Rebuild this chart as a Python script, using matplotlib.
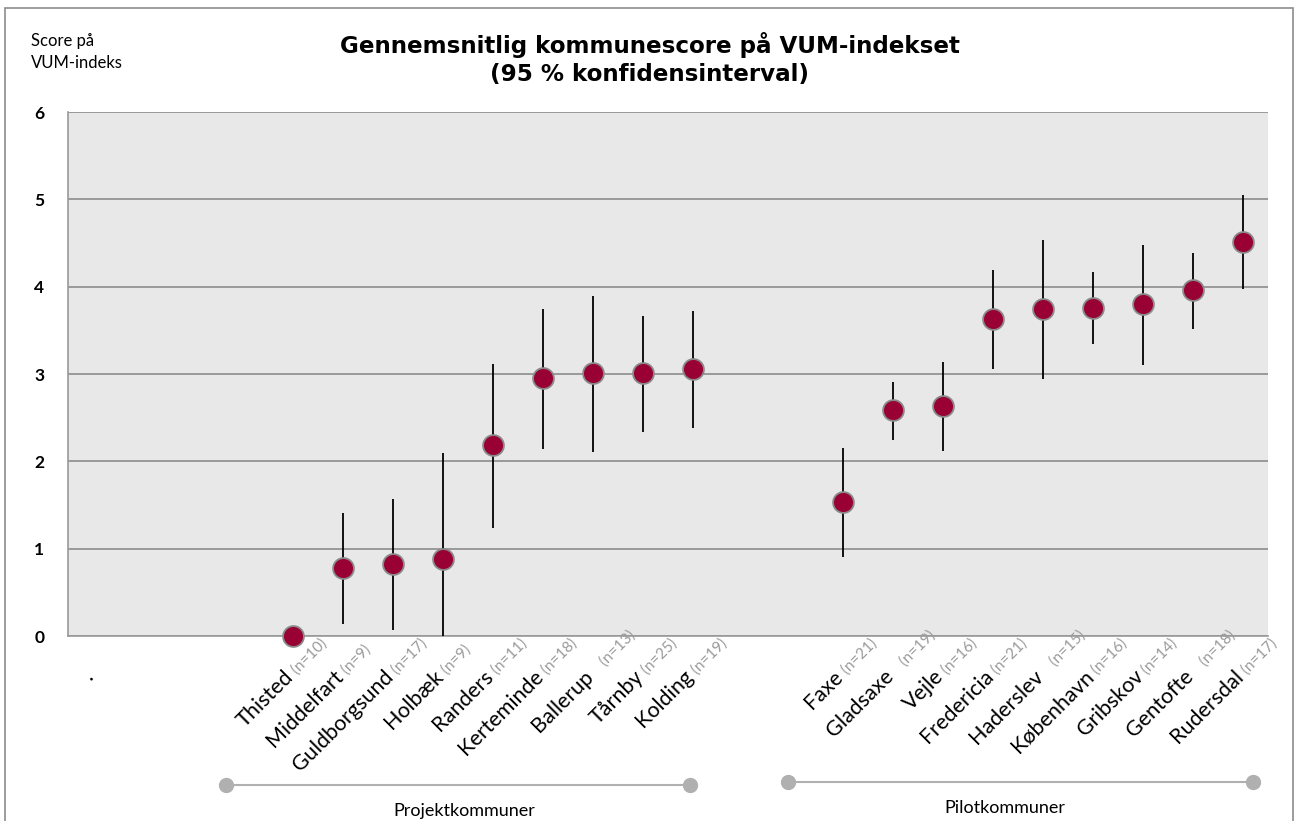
import numpy as np
import matplotlib
matplotlib.use("Agg")
import matplotlib.pyplot as plt
import matplotlib.transforms as mtransforms
from matplotlib.patches import Rectangle

plt.rcParams['font.family'] = ['Lato', 'DejaVu Sans']

# === DATA ===
# 24 category slots; empty slots keep the gaps of the original chart
names = [".", "", "", "",
         "Thisted", "Middelfart", "Guldborgsund", "Holbæk", "Randers",
         "Kerteminde", "Ballerup", "Tårnby", "Kolding",
         "", "",
         "Faxe", "Gladsaxe", "Vejle", "Fredericia", "Haderslev",
         "København", "Gribskov", "Gentofte", "Rudersdal"]
n_labels = ["", "", "", "",
            "(n=10)", "(n=9)", "(n=17)", "(n=9)", "(n=11)",
            "(n=18)", "   (n=13)", "(n=25)", "(n=19)",
            "", "",
            "(n=21)", "   (n=19)", "(n=16)", "(n=21)", "   (n=15)",
            "(n=16)", "(n=14)", "   (n=18)", "(n=17)"]
score = [np.nan, np.nan, np.nan, np.nan,
         0.00, 0.78, 0.83, 0.88, 2.19, 2.95, 3.01, 3.01, 3.06,
         np.nan, np.nan,
         1.53, 2.59, 2.63, 3.63, 3.75, 3.76, 3.80, 3.96, 4.51]
ci_low = [np.nan, np.nan, np.nan, np.nan,
          0.00, 0.14, 0.07, 0.00, 1.24, 2.14, 2.11, 2.34, 2.38,
          np.nan, np.nan,
          0.91, 2.25, 2.12, 3.06, 2.94, 3.34, 3.10, 3.52, 3.97]
ci_high = [np.nan, np.nan, np.nan, np.nan,
           0.00, 1.41, 1.57, 2.09, 3.12, 3.75, 3.89, 3.66, 3.72,
           np.nan, np.nan,
           2.15, 2.91, 3.14, 4.19, 4.54, 4.17, 4.48, 4.38, 5.05]
groups = ["Projektkommuner", "Pilotkommuner"]
group_span = [(2.66, 11.94), (13.9, 23.2)]
group_label_x = [7.42, 18.24]

x = np.arange(len(names))
score = np.array(score)
ci_low = np.array(ci_low)
ci_high = np.array(ci_high)

# === FIGURE ===
fig = plt.figure(figsize=(12.98, 8.21), dpi=100)
fig.patches.append(Rectangle((5 / 1298, -0.05), 1288 / 1298, 1.05 - 8 / 821,
                             transform=fig.transFigure, fill=False,
                             edgecolor="#8c8c8c", linewidth=1.2))

ax = fig.add_axes([68 / 1298, (821 - 636) / 821, 1200 / 1298, 524 / 821])
ax.set_facecolor("#e8e8e8")
ax.set_xlim(-0.5, 23.5)
ax.set_ylim(0, 6)
ax.set_yticks(range(7))
ax.set_yticklabels([str(i) for i in range(7)], fontsize=12.5, fontweight="bold")
ax.tick_params(axis="y", length=0, pad=17)
ax.tick_params(axis="x", length=0, labelbottom=False)
ax.grid(axis="y", color="#8c8c8c", linewidth=1.2)
ax.set_axisbelow(True)
for side in ["top", "right"]:
    ax.spines[side].set_visible(False)
for side in ["left", "bottom"]:
    ax.spines[side].set_color("#999999")
    ax.spines[side].set_linewidth(1.2)

# confidence intervals + means
ax.vlines(x, ci_low, ci_high, color="black", linewidth=1.3, zorder=3)
ax.plot(x, score, linestyle="none", marker="o", markersize=15,
        markerfacecolor="#990033", markeredgecolor="#8a8a8a",
        markeredgewidth=1.3, zorder=4, clip_on=False)

# rotated two-tone category labels
for i, (nm, nl) in enumerate(zip(names, n_labels)):
    if nm:
        ax.annotate(nm, xy=(i, 0), xytext=(1, -30), textcoords="offset points",
                    rotation=45, rotation_mode="anchor", ha="right", va="baseline",
                    fontsize=15.5, color="black", annotation_clip=False)
    if nl:
        ax.annotate(" " + nl, xy=(i, 0), xytext=(1, -30), textcoords="offset points",
                    rotation=45, rotation_mode="anchor", ha="left", va="baseline",
                    fontsize=11, color="#9a9a9a", annotation_clip=False)

# group brackets below the labels
trans = mtransforms.blended_transform_factory(ax.transData, fig.transFigure)
for g, (x0, x1), lx, yy in zip(groups, group_span, group_label_x,
                               [(821 - 785) / 821, (821 - 782) / 821]):
    ax.plot([x0, x1], [yy, yy], color="#b0b0b0", linewidth=1.5, transform=trans,
            clip_on=False, solid_capstyle="butt")
    ax.plot([x0, x1], [yy, yy], linestyle="none", marker="o", markersize=10,
            color="#b0b0b0", transform=trans, clip_on=False)
    ax.text(lx, yy - 26 / 821, g, transform=trans, ha="center",
            va="center", fontsize=13)

# titles
fig.text(650 / 1298, 1 - 45 / 821, "Gennemsnitlig kommunescore på VUM-indekset",
         ha="center", va="center", fontsize=16.6, fontweight="bold",
         family="DejaVu Sans")
fig.text(650 / 1298, 1 - 74 / 821, "(95 % konfidensinterval)",
         ha="center", va="center", fontsize=16.6, fontweight="bold",
         family="DejaVu Sans")
fig.text(31 / 1298, 1 - 52 / 821, "Score på\nVUM-indeks", ha="left", va="center",
         fontsize=12, linespacing=1.45)

fig.savefig("out.png", dpi=100)
